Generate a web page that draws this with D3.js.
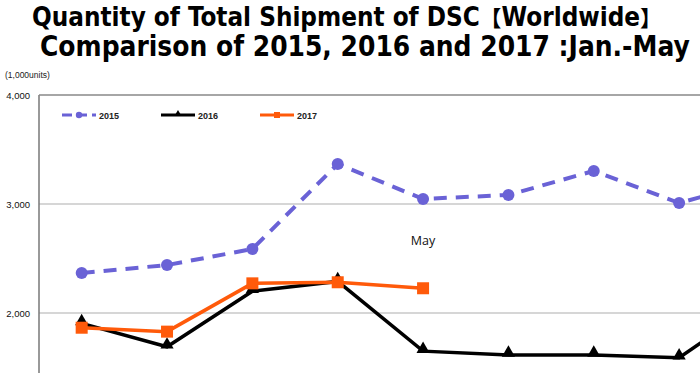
<!DOCTYPE html>
<html><head><meta charset="utf-8">
<script src="https://cdn.jsdelivr.net/npm/d3@7"></script>
<style>body{margin:0;background:#fff;overflow:hidden}svg{display:block}</style>
</head><body>
<svg id="c" width="700" height="373"></svg>
<script>
const months = ["Jan","Feb","Mar","Apr","May","Jun","Jul","Aug","Sep","Oct","Nov","Dec"];
const series2015 = [2367, 2440, 2587, 3367, 3046, 3083, 3303, 3009, 3225];
const series2016 = [1905, 1690, 2200, 2290, 1650, 1615, 1615, 1590, 2130];
const series2017 = [1865, 1829, 2272, 2282, 2227];
const yTicks = [2000, 3000, 4000];
const seriesNames = ["2015", "2016", "2017"];
const titleLines = ["Quantity of Total Shipment of DSC【Worldwide】", "Comparison of 2015, 2016 and 2017 :Jan.-May"];

const svg = d3.select("#c");
const x = d3.scaleBand().domain(months).range([39, 39 + 12 * 85.35]);
const y = d3.scaleLinear().domain([2000, 4000]).range([313, 95]);
const cx = m => x(m) + x.bandwidth() / 2;

// titles: font size fitted to the reference width (no glyph compression)
const tl = [{t: titleLines[0], x: 32, w: 630, yb: 26}, {t: titleLines[1], x: 40, w: 650, yb: 56}];
tl.forEach(d => {
  const te = svg.append("text").attr("x", d.x).attr("y", d.yb)
    .attr("font-family", "'DejaVu Sans Condensed', 'DejaVu Sans', 'Noto Sans CJK JP', sans-serif")
    .attr("font-stretch", "condensed").attr("font-weight", "bold")
    .attr("font-size", 25).attr("fill", "#000");
  d.t.split(/([【】])/).filter(s => s.length).forEach(s => {
    const ts = te.append("tspan").text(s);
    if (s === "【" || s === "】") ts.attr("class", "br").attr("font-size", 21).attr("font-family", "'Noto Sans CJK JP', sans-serif");
  });
  const len = te.node().getComputedTextLength();
  const k = Math.min(1.15, d.w / len);
  te.attr("font-size", 25 * k);
  te.selectAll("tspan.br").attr("font-size", 21 * k);
});

svg.append("text").attr("x", 5).attr("y", 78).text("(1,000units)")
  .attr("font-family", "'Liberation Sans', sans-serif").attr("font-size", 8.5).attr("fill", "#222");

// grid
const grid = svg.append("g");
grid.selectAll("line").data(yTicks.filter(v => v < 4000)).join("line")
  .attr("x1", 39).attr("x2", 700).attr("y1", d => y(d)).attr("y2", d => y(d))
  .attr("stroke", "#c8c8c8").attr("stroke-width", 1.5);

// axis
const yAxis = d3.axisLeft(y).tickValues(yTicks).tickSize(0).tickPadding(9)
  .tickFormat(d3.format(","));
const ga = svg.append("g").attr("transform", "translate(39,0)").call(yAxis);
ga.select(".domain").remove();
ga.selectAll("text").attr("font-family", "'Liberation Sans', sans-serif").attr("font-size", 9.5).attr("fill", "#111");
svg.append("line").attr("x1", 39).attr("x2", 39).attr("y1", y(4000)).attr("y2", 373)
  .attr("stroke", "#777").attr("stroke-width", 1.5);
svg.append("line").attr("x1", 39).attr("x2", 700).attr("y1", y(4000)).attr("y2", y(4000))
  .attr("stroke", "#888").attr("stroke-width", 1.5);

// May label
svg.append("text").attr("x", cx("May")).attr("y", 245).attr("text-anchor", "middle").text("May")
  .attr("font-family", "'Open Sans', 'DejaVu Sans', sans-serif").attr("font-size", 12.5).attr("fill", "#111");

const line = d3.line().x((d, i) => cx(months[i])).y(d => y(d));
const c15 = "#6a62d6", c17 = "#ff5a0a";

const plot = svg.append("g");
// 2016
plot.append("path").attr("d", line(series2016)).attr("fill", "none").attr("stroke", "#000").attr("stroke-width", 3.5);
const tri = d3.symbol().type(d3.symbolTriangle).size(75);
plot.selectAll(".t16").data(series2016).join("path").attr("class", "t16")
  .attr("d", tri).attr("transform", (d, i) => `translate(${cx(months[i])},${y(d) - 2})`).attr("fill", "#000");
// 2017
plot.append("path").attr("d", line(series2017)).attr("fill", "none").attr("stroke", c17).attr("stroke-width", 3.5);
plot.selectAll(".s17").data(series2017).join("rect").attr("class", "s17")
  .attr("x", (d, i) => cx(months[i]) - 6).attr("y", d => y(d) - 6).attr("width", 12).attr("height", 12).attr("fill", c17);
// 2015
plot.append("path").attr("d", line(series2015)).attr("fill", "none").attr("stroke", c15).attr("stroke-width", 4)
  .attr("stroke-dasharray", "13,9");
plot.selectAll(".c15").data(series2015).join("circle").attr("class", "c15")
  .attr("cx", (d, i) => cx(months[i])).attr("cy", d => y(d)).attr("r", 6).attr("fill", c15);

// legend
const lg = svg.append("g");
const ly = 115;
const legendItems = [
  {name: seriesNames[0], x0: 62, color: c15},
  {name: seriesNames[1], x0: 161, color: "#000"},
  {name: seriesNames[2], x0: 260, color: c17}
];
legendItems.forEach((d, k) => {
  const ln = lg.append("line").attr("x1", d.x0).attr("x2", d.x0 + 34).attr("y1", ly).attr("y2", ly)
    .attr("stroke", d.color).attr("stroke-width", 3);
  if (k === 0) ln.attr("stroke-dasharray", "10,5").attr("stroke-dashoffset", 0);
  const mx = d.x0 + 17;
  if (k === 0) lg.append("circle").attr("cx", mx).attr("cy", ly).attr("r", 3.2).attr("fill", d.color);
  if (k === 1) lg.append("path").attr("d", d3.symbol().type(d3.symbolTriangle).size(22)).attr("transform", `translate(${mx},${ly - 1})`).attr("fill", "#000");
  if (k === 2) lg.append("rect").attr("x", mx - 3).attr("y", ly - 3).attr("width", 6).attr("height", 6).attr("fill", d.color);
  lg.append("text").attr("x", d.x0 + 37).attr("y", ly + 3.5).text(d.name)
    .attr("font-family", "'Liberation Sans', sans-serif").attr("font-size", 9).attr("font-weight", "bold").attr("fill", "#222");
});
</script>
</body></html>
